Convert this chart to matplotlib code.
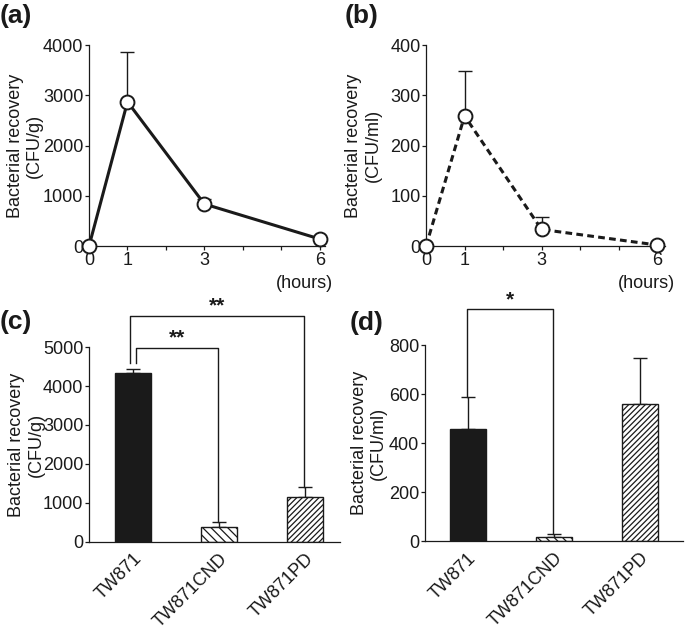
import matplotlib
matplotlib.use('Agg')
import matplotlib.pyplot as plt

plt.rcParams['font.family'] = ['Liberation Sans', 'DejaVu Sans']
plt.rcParams['hatch.linewidth'] = 0.9

# time course data
hours = [0, 1, 3, 6]
tissue_mean = [0, 2870, 836, 140]
tissue_err = [0, 1000, 100, 0]
blood_mean = [0, 259, 33, 2]
blood_err = [0, 89, 24, 0]

# strain comparison data
strains = ['TW871', 'TW871CND', 'TW871PD']
tissue_bar = [4340, 370, 1140]
tissue_bar_err = [100, 128, 272]
blood_bar = [456, 15, 562]
blood_bar_err = [133, 16, 184]

ink = '#1a1a1a'
fig = plt.figure(figsize=(6.85, 6.3), dpi=100)


def style_axes(ax):
    for s in ['top', 'right']:
        ax.spines[s].set_visible(False)
    for s in ['left', 'bottom']:
        ax.spines[s].set_linewidth(0.9)
        ax.spines[s].set_color(ink)
    ax.tick_params(direction='out', length=3, width=0.9, pad=1, labelsize=13, colors=ink)


def line_panel(pos, mean, err, ymax, step, ls, ylabel, lab_x, hours_x):
    ax = fig.add_axes(pos)
    style_axes(ax)
    ax.errorbar(hours, mean, yerr=[[0]*len(err), err], fmt='none', ecolor=ink,
                elinewidth=1.0, capsize=5, capthick=1.0, clip_on=False, zorder=2)
    ax.plot(hours, mean, color=ink, lw=2.2, linestyle=ls, marker='o', ms=10,
            mfc='white', mec=ink, mew=1.4, clip_on=False, zorder=3)
    ax.set_ylim(0, ymax)
    ax.set_xticks(range(0, 7))
    ax.set_xticklabels(['0', '1', '', '3', '', '', '6'])
    ax.set_yticks(range(0, ymax + 1, step))
    ax.set_ylabel(ylabel, fontsize=13, color=ink)
    ax.yaxis.set_label_coords(lab_x, 0.5)
    ax.text(hours_x, -0.185, '(hours)', ha='right', va='center', fontsize=13,
            color=ink, transform=ax.transAxes, clip_on=False)
    return ax


def bar_panel(pos, mean, err, ymax, step, ylabel, lab_x, xlim):
    ax = fig.add_axes(pos)
    style_axes(ax)
    x = list(range(len(strains)))
    hatches = ['', '\\\\\\\\', '//////']
    faces = [ink, 'white', 'white']
    for i in x:
        ax.bar(i, mean[i], width=0.42, color=faces[i], edgecolor=ink,
               linewidth=1.0, hatch=hatches[i], zorder=2)
    ax.errorbar(x, mean, yerr=[[0]*len(err), err], fmt='none', ecolor=ink,
                elinewidth=1.0, capsize=5, capthick=1.0, zorder=1)
    ax.set_xlim(*xlim)
    ax.set_ylim(0, ymax)
    ax.set_yticks(range(0, ymax + 1, step))
    ax.set_xticks(x)
    ax.set_xticklabels(strains, rotation=45, ha='right', rotation_mode='anchor')
    ax.tick_params(axis='x', length=0, pad=6)
    ax.set_ylabel(ylabel, fontsize=13, color=ink)
    ax.yaxis.set_label_coords(lab_x, 0.5)
    return ax


def bracket(ax, x1, x2, y, y1, y2, label):
    ax.plot([x1, x1, x2, x2], [y1, y, y, y2], color=ink, lw=1.0, clip_on=False)
    ax.text((x1 + x2) / 2, y, label, ha='center', va='bottom', fontsize=15,
            fontweight='bold', color=ink, clip_on=False)


axa = line_panel([0.130, 0.6095, 0.344, 0.319], tissue_mean, tissue_err, 4000, 1000,
                 '-', 'Bacterial recovery\n(CFU/g)', -0.195, 1.035)
axa.set_xlim(0, 6.13)
axb = line_panel([0.622, 0.6095, 0.349, 0.319], blood_mean, blood_err, 400, 100,
                 (0, (2.2, 1.4)), 'Bacterial recovery\n(CFU/ml)', -0.184, 1.04)
axb.set_xlim(0, 6.21)

axc = bar_panel([0.130, 0.140, 0.366, 0.309], tissue_bar, tissue_bar_err, 5000, 1000,
                'Bacterial recovery\n(CFU/g)', -0.178, (-0.51, 2.41))
bracket(axc, 0.035, 0.99, 4990, 4590, tissue_bar[1] + tissue_bar_err[1], '**')
bracket(axc, -0.035, 1.99, 5810, 4590, tissue_bar[2] + tissue_bar_err[2], '**')

axd = bar_panel([0.620, 0.141, 0.377, 0.311], blood_bar, blood_bar_err, 800, 200,
                'Bacterial recovery\n(CFU/ml)', -0.145, (-0.5, 2.5))
bracket(axd, -0.01, 0.99, 947, blood_bar[0] + blood_bar_err[0],
        blood_bar[1] + blood_bar_err[1], '*')

# panel tags
for tag, tx, ty in [('(a)', 0.0, 0.974), ('(b)', 0.503, 0.974),
                    ('(c)', 0.0, 0.489), ('(d)', 0.510, 0.487)]:
    fig.text(tx, ty, tag, fontsize=19, fontweight='bold', color=ink,
             ha='left', va='center')

fig.savefig('out.png', dpi=100)
